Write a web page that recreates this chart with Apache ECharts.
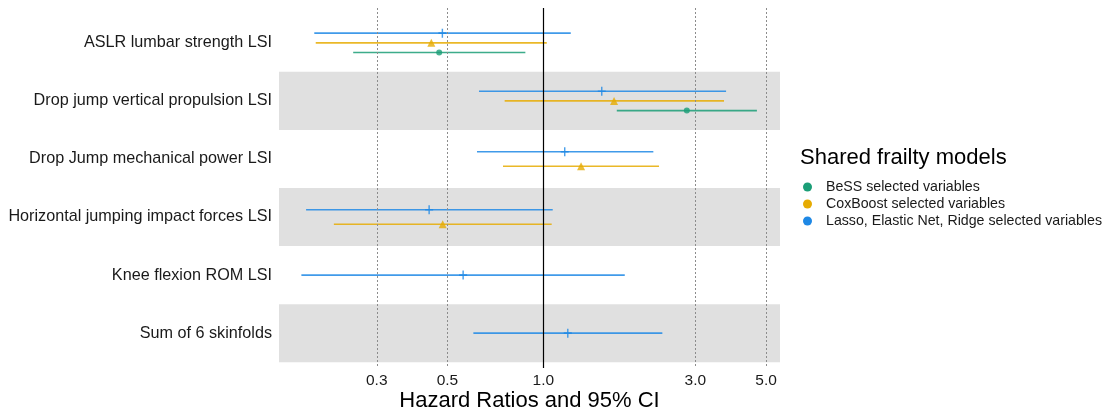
<!DOCTYPE html>
<html>
<head>
<meta charset="utf-8">
<script src="https://cdn.jsdelivr.net/npm/echarts@6/dist/echarts.min.js"></script>
<style>
html,body{margin:0;padding:0;background:#fff;}
#chart{width:1110px;height:414px;}
</style>
</head>
<body>
<div id="chart"></div>
<script>
// ---- data ----
var categories = [
  'ASLR lumbar strength LSI',
  'Drop jump vertical propulsion LSI',
  'Drop Jump mechanical power LSI',
  'Horizontal jumping impact forces LSI',
  'Knee flexion ROM LSI',
  'Sum of 6 skinfolds'
];
var modelNames = ['BeSS selected variables', 'CoxBoost selected variables', 'Lasso, Elastic Net, Ridge selected variables'];
var bessHR = [0.471, 2.82, null, null, null, null];
var bessLo = [0.253, 1.70, null, null, null, null];
var bessHi = [0.878, 4.68, null, null, null, null];
var coxHR = [0.445, 1.667, 1.313, 0.483, null, null];
var coxLo = [0.193, 0.756, 0.747, 0.220, null, null];
var coxHi = [1.025, 3.69, 2.307, 1.062, null, null];
var lassoHR = [0.482, 1.525, 1.167, 0.438, 0.560, 1.193];
var lassoLo = [0.191, 0.628, 0.619, 0.180, 0.174, 0.603];
var lassoHi = [1.219, 3.745, 2.214, 1.070, 1.801, 2.363];
var tickValues = [0.3, 0.5, 1.0, 3.0, 5.0];

// ---- build ----
var colors = ['#1B9E77', '#E6AB02', '#1E88E5'];
var models = [
  {hr: bessHR, lo: bessLo, hi: bessHi},
  {hr: coxHR, lo: coxLo, hi: coxHi},
  {hr: lassoHR, lo: lassoLo, hi: lassoHi}
];
var stackOrder = [2, 1, 0]; // top to bottom within a row
var dodge = 0.5;
var pts = [[], [], []], cis = [[], [], []];
categories.forEach(function (c, r) {
  var present = stackOrder.filter(function (m) { return models[m].hr[r] != null; });
  var n = present.length;
  present.forEach(function (m, i) {
    var y = (r + 1) - dodge / 2 + dodge / (2 * n) + i * dodge / n;
    pts[m].push([models[m].hr[r], y]);
    cis[m].push([models[m].lo[r], models[m].hi[r], y]);
  });
});
var symbols = [
  'circle',
  'triangle',
  'path://M-0.9,-5H0.9V-0.9H5V0.9H0.9V5H-0.9V0.9H-5V-0.9H-0.9Z'
];
var symbolSizes = [6, 8, [8, 9]];
var FONT = 'Liberation Sans, Arial, sans-serif';

var series = [];
// background bands + reference lines
series.push({
  type: 'scatter', data: [], silent: true, z: 1, itemStyle: {color: '#E0E0E0'},
  markArea: {
    silent: true,
    itemStyle: {color: '#E0E0E0'},
    data: [[{yAxis: 1.5}, {yAxis: 2.5}], [{yAxis: 3.5}, {yAxis: 4.5}], [{yAxis: 5.5}, {yAxis: 6.5}]]
  },
  markLine: {
    silent: true, symbol: 'none', label: {show: false},
    data: tickValues.map(function (v) {
      return v === 1 ? {xAxis: v, lineStyle: {color: '#000', type: 'solid', width: 1.2}}
                     : {xAxis: v, lineStyle: {color: '#8c8c8c', type: [2, 2], width: 1}};
    })
  }
});
[0, 1, 2].forEach(function (m) {
  series.push({
    type: 'custom', name: modelNames[m], z: 3,
    itemStyle: {color: colors[m]},
    data: cis[m],
    encode: {x: [0, 1], y: 2},
    renderItem: function (params, api) {
      var a = api.coord([api.value(0), api.value(2)]);
      var b = api.coord([api.value(1), api.value(2)]);
      return {type: 'line', shape: {x1: a[0], y1: a[1], x2: b[0], y2: b[1]},
              style: {stroke: colors[m], lineWidth: 1.6, opacity: 0.85}};
    }
  });
  series.push({
    type: 'scatter', name: modelNames[m], z: 4,
    data: pts[m], symbol: symbols[m], symbolSize: symbolSizes[m],
    itemStyle: {color: colors[m]}
  });
});

var chart = echarts.init(document.getElementById('chart'));
chart.setOption({
  animation: false,
  color: colors,
  textStyle: {fontFamily: FONT},
  title: {
    text: 'Shared frailty models', left: 795, top: 142,
    textStyle: {fontSize: 22, fontWeight: 'normal', color: '#000', fontFamily: FONT}
  },
  legend: {
    orient: 'vertical', left: 798, top: 173.5, itemWidth: 9, itemHeight: 9, itemGap: 0,
    data: modelNames.map(function (n, i) { return {name: n, icon: 'circle', itemStyle: {color: colors[i]}}; }),
    textStyle: {fontSize: 14.2, color: '#1a1a1a', lineHeight: 17, padding: [0, 0, 0, 9], fontFamily: FONT}
  },
  grid: {left: 279, right: 330, top: 8, bottom: 46, outerBoundsMode: 'none', containLabel: false},
  xAxis: {
    type: 'log', min: 0.148, max: 5.53,
    axisLine: {show: false}, axisTick: {show: false}, splitLine: {show: false},
    axisLabel: {
      customValues: tickValues, fontSize: 15.5, color: '#1a1a1a', margin: 5,
      formatter: function (v) { return Number(v).toFixed(1); }
    },
    name: 'Hazard Ratios and 95% CI', nameLocation: 'middle', nameGap: 22,
    nameMoveOverlap: false,
    nameTextStyle: {fontSize: 22, color: '#000'}
  },
  yAxis: {
    type: 'value', min: 0.4, max: 6.6, inverse: true,
    axisLine: {show: false}, axisTick: {show: false}, splitLine: {show: false},
    axisLabel: {
      customValues: [1, 2, 3, 4, 5, 6], fontSize: 16.2, color: '#1a1a1a', margin: 7,
      formatter: function (v) { return categories[Math.round(v) - 1]; }
    }
  },
  series: series
});
</script>
</body>
</html>
